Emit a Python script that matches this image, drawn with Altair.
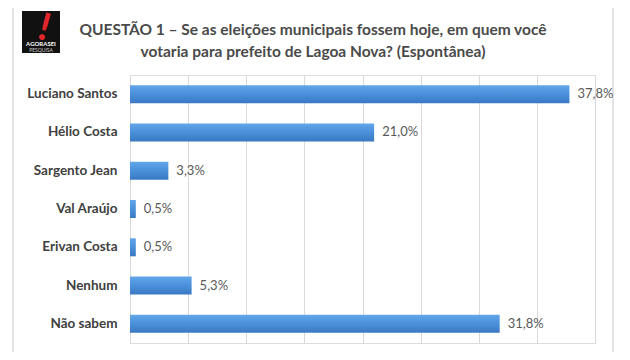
import altair as alt
import pandas as pd

names = ["Luciano Santos", "Hélio Costa", "Sargento Jean", "Val Araújo",
         "Erivan Costa", "Nenhum", "Não sabem"]
values = [37.8, 21.0, 3.3, 0.5, 0.5, 5.3, 31.8]
labels = [f"{v:.1f}".replace(".", ",") + "%" for v in values]
grid_ticks = [0, 5, 10, 15, 20, 25, 30, 35, 40]
title_lines = ["QUESTÃO 1 – Se as eleições municipais fossem hoje, em quem você",
               "votaria para prefeito de Lagoa Nova? (Espontânea)"]

df = pd.DataFrame({"name": names, "value": values, "label": labels})

FONT = "Lato"

y_enc = alt.Y("name:N", sort=names, title=None,
              scale=alt.Scale(paddingInner=0.53, paddingOuter=0.265),
              axis=alt.Axis(domain=False, ticks=False, grid=False, labelPadding=13,
                            labelFont=FONT, labelFontSize=13.5, labelFontWeight="bold",
                            labelColor="#404040"))
x_enc = alt.X("value:Q", title=None,
              scale=alt.Scale(domain=[0, 40], nice=False),
              axis=alt.Axis(values=grid_ticks, labels=False, ticks=False, domain=False,
                            grid=True, gridColor="#d9d9d9", gridWidth=1))

base = alt.Chart(df)

bars = base.mark_bar(
    color=alt.Gradient(gradient="linear", x1=0, x2=0, y1=0, y2=1,
                       stops=[alt.GradientStop(offset=0, color="#62a6ea"),
                              alt.GradientStop(offset=0.5, color="#4a90da"),
                              alt.GradientStop(offset=1, color="#3a78c2")])
).encode(x=x_enc, y=y_enc)

texts = base.mark_text(align="left", baseline="middle", dx=8, font=FONT,
                       fontSize=13, color="#595959").encode(
    x="value:Q", y=alt.Y("name:N", sort=names), text="label:N")

frame_df = pd.DataFrame({"k": [1]})
frame = alt.Chart(frame_df).mark_rect(fill=None, stroke="#dadada", strokeWidth=1.5).encode(
    x=alt.value(-117), x2=alt.value(483), y=alt.value(-72), y2=alt.value(300))

title1 = alt.Chart(pd.DataFrame({"t": [title_lines[0]]})).mark_text(
    align="center", baseline="middle", font=FONT, fontSize=15.5, fontWeight="bold",
    color="#4a4a4a").encode(x=alt.value(183), y=alt.value(-45), text="t:N")
title2 = alt.Chart(pd.DataFrame({"t": [title_lines[1]]})).mark_text(
    align="center", baseline="middle", font=FONT, fontSize=15.5, fontWeight="bold",
    color="#4a4a4a").encode(x=alt.value(183), y=alt.value(-23), text="t:N")

logo_bg = alt.Chart(frame_df).mark_rect(fill="#111111").encode(
    x=alt.value(-108), x2=alt.value(-70), y=alt.value(-64), y2=alt.value(-22))
logo_mark = alt.Chart(pd.DataFrame({"t": ["!"]})).mark_text(
    align="center", baseline="middle", font=FONT, fontSize=38, fontWeight="bold",
    color="#e3262b", angle=15).encode(x=alt.value(-86), y=alt.value(-46), text="t:N")
logo_t1 = alt.Chart(pd.DataFrame({"t": ["AGORASEI"]})).mark_text(
    align="center", baseline="middle", font=FONT, fontSize=6, fontWeight="bold",
    color="#ffffff").encode(x=alt.value(-89), y=alt.value(-31), text="t:N")
logo_t2 = alt.Chart(pd.DataFrame({"t": ["PESQUISA"]})).mark_text(
    align="center", baseline="middle", font=FONT, fontSize=5,
    color="#cccccc").encode(x=alt.value(-89), y=alt.value(-25), text="t:N")

chart = alt.layer(frame, bars, texts, title1, title2, logo_bg, logo_mark, logo_t1, logo_t2).properties(
    width=465, height=268,
    autosize=alt.AutoSizeParams(type="none"),
    padding={"left": 122, "top": 67, "right": 27, "bottom": 9},
).configure_view(stroke=None).configure(background="#ffffff")

chart.save("out.html", embed_options={"renderer": "svg", "actions": False})
